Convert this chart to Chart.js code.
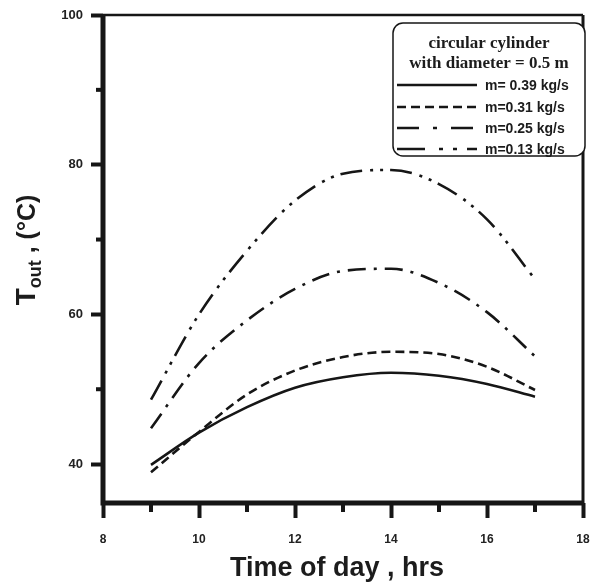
<!DOCTYPE html>
<html>
<head>
<meta charset="UTF-8">
<script src="https://cdn.jsdelivr.net/npm/chart.js"></script>
<style>
  body { margin: 0; background: #fff; }
  #wrap { width: 592px; height: 586px; }
</style>
</head>
<body>
<div id="wrap"><canvas id="grafico"></canvas></div>
<script>
    // horas do dia
    const hours = [9, 10, 11, 12, 13, 14, 15, 16, 17];
    // temperatura de saida (°C) para cada vazao
    const m039 = [39.9, 44.2, 47.6, 50.2, 51.6, 52.2, 51.8, 50.7, 49.0];
    const m031 = [38.9, 44.3, 49.3, 52.5, 54.3, 55.0, 54.7, 53.0, 49.9];
    const m025 = [44.8, 53.5, 59.2, 63.4, 65.8, 66.1, 64.2, 60.3, 54.4];
    const m013 = [48.6, 60.0, 68.5, 75.2, 78.8, 79.3, 77.4, 72.7, 64.7];
    const seriesLabels = ['m= 0.39 kg/s', 'm=0.31 kg/s', 'm=0.25 kg/s', 'm=0.13 kg/s'];
    const xTicks = [8, 10, 12, 14, 16, 18];
    const xMinor = [9, 11, 13, 15, 17];
    const yTicks = [40, 60, 80, 100];
    const yMinor = [50, 70, 90];

    const dashes = [[], [9, 5], [18, 8, 3, 8], [22, 8, 3, 7, 3, 7]];
    const dashesLegenda = [[], [9, 5], [22, 14, 4, 14], [28, 14, 4, 10, 4, 10]];
    const tinta = '#161616';

    function pontos(valores) {
        return hours.map((h, i) => ({ x: h, y: valores[i] }));
    }

    const series = [m039, m031, m025, m013];
    const datasets = series.map((s, i) => ({
        label: seriesLabels[i],
        data: pontos(s),
        borderColor: tinta,
        borderWidth: 2.6,
        borderDash: dashes[i],
        pointRadius: 0,
        fill: false,
        cubicInterpolationMode: 'monotone'
    }));

    const moldura = {
        id: 'moldura',
        afterDraw(chart) {
            const { ctx, chartArea: a, scales: { x, y } } = chart;
            ctx.save();
            ctx.strokeStyle = tinta;
            ctx.lineCap = 'butt';

            // bordas
            ctx.lineWidth = 5;
            ctx.beginPath();
            ctx.moveTo(a.left, a.top);
            ctx.lineTo(a.left, a.bottom);
            ctx.lineTo(a.right, a.bottom);
            ctx.stroke();
            ctx.lineWidth = 2.5;
            ctx.beginPath();
            ctx.moveTo(a.left, a.top);
            ctx.lineTo(a.right, a.top);
            ctx.stroke();
            ctx.lineWidth = 3;
            ctx.beginPath();
            ctx.moveTo(a.right, a.top);
            ctx.lineTo(a.right, a.bottom);
            ctx.stroke();

            // ticks menores
            ctx.lineWidth = 4;
            xMinor.forEach(v => {
                const px = x.getPixelForValue(v);
                ctx.beginPath();
                ctx.moveTo(px, a.bottom);
                ctx.lineTo(px, a.bottom + 9);
                ctx.stroke();
            });
            yMinor.forEach(v => {
                const py = y.getPixelForValue(v);
                ctx.beginPath();
                ctx.moveTo(a.left, py);
                ctx.lineTo(a.left - 7, py);
                ctx.stroke();
            });

            // titulo eixo x
            ctx.fillStyle = '#1c1c1c';
            ctx.font = 'bold 27px "Liberation Sans", Arial';
            ctx.textAlign = 'center';
            ctx.textBaseline = 'alphabetic';
            ctx.fillText('Time of day , hrs', 337, 576);

            // titulo eixo y com subscrito
            ctx.save();
            ctx.translate(35, 250);
            ctx.rotate(-Math.PI / 2);
            ctx.textAlign = 'left';
            const f1 = 'bold 28px "Liberation Sans", Arial';
            const f2 = 'bold 18px "Liberation Sans", Arial';
            const f3 = 'bold 25px "Liberation Sans", Arial';
            ctx.font = f1; const w1 = ctx.measureText('T').width;
            ctx.font = f2; const w2 = ctx.measureText('out').width;
            ctx.font = f3; const w3 = ctx.measureText(' , (\u00B0C)').width;
            let cx = -(w1 + w2 + w3) / 2;
            ctx.font = f1; ctx.fillText('T', cx, 0); cx += w1;
            ctx.font = f2; ctx.fillText('out', cx, 6); cx += w2;
            ctx.font = f3; ctx.fillText(' , (\u00B0C)', cx, 0);
            ctx.restore();

            // legenda
            const lx = 393, ly = 23, lw = 192, lh = 133;
            ctx.fillStyle = '#fff';
            ctx.lineWidth = 1.5;
            ctx.beginPath();
            ctx.roundRect(lx, ly, lw, lh, 10);
            ctx.fill();
            ctx.stroke();
            ctx.fillStyle = '#1c1c1c';
            ctx.textAlign = 'center';
            ctx.font = 'bold 17px "Liberation Serif", "Times New Roman"';
            ctx.fillText('circular cylinder', 489, 48);
            ctx.fillText('with diameter = 0.5 m', 489, 68);
            ctx.textAlign = 'left';
            ctx.font = 'bold 14px "Liberation Sans", Arial';
            const linhasY = [85, 107, 128, 149];
            chart.data.datasets.forEach((ds, i) => {
                const yy = linhasY[i];
                ctx.lineWidth = 2.6;
                ctx.setLineDash(dashesLegenda[i]);
                ctx.beginPath();
                ctx.moveTo(397, yy);
                ctx.lineTo(477, yy);
                ctx.stroke();
                ctx.setLineDash([]);
                ctx.fillText(ds.label, 485, yy + 5);
            });
            ctx.restore();
        }
    };

    new Chart(document.getElementById('grafico'), {
        type: 'line',
        data: { datasets: datasets },
        options: {
            responsive: true,
            maintainAspectRatio: false,
            animation: false,
            layout: { padding: { top: 15, right: 9, left: 0, bottom: 0 } },
            plugins: { legend: { display: false }, tooltip: { enabled: false } },
            scales: {
                x: {
                    type: 'linear',
                    min: 8,
                    max: 18,
                    afterBuildTicks: s => { s.ticks = xTicks.map(v => ({ value: v })); },
                    afterFit: s => { s.height = 83; s.paddingLeft = 0; s.paddingRight = 0; },
                    border: { display: false },
                    grid: { drawOnChartArea: false, tickLength: 15, tickWidth: 4, tickColor: tinta },
                    ticks: {
                        padding: 14,
                        maxRotation: 0,
                        color: '#222',
                        font: { family: '"Liberation Sans", Arial', size: 12, weight: 'bold' }
                    }
                },
                y: {
                    min: 34.8,
                    max: 100,
                    afterBuildTicks: s => { s.ticks = yTicks.map(v => ({ value: v })); },
                    afterFit: s => { s.width = 103; s.paddingTop = 0; s.paddingBottom = 0; },
                    border: { display: false },
                    grid: { drawOnChartArea: false, tickLength: 12, tickWidth: 4, tickColor: tinta },
                    ticks: {
                        padding: 8,
                        color: '#222',
                        font: { family: '"Liberation Sans", Arial', size: 13, weight: 'bold' }
                    }
                }
            }
        },
        plugins: [moldura]
    });
</script>
</body>
</html>
